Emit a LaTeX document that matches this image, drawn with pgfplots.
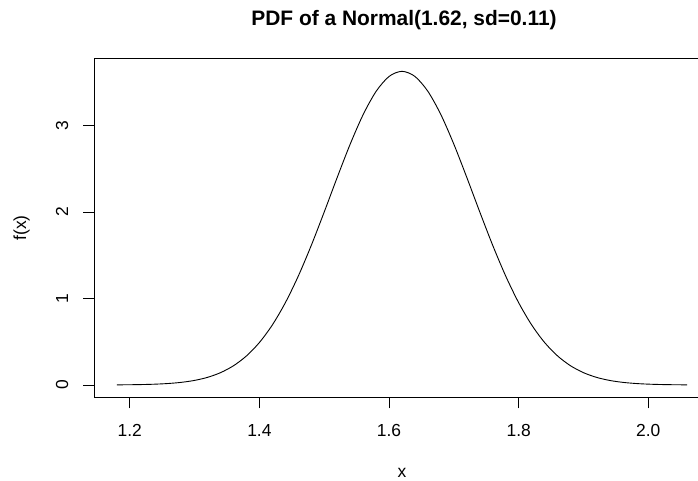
\documentclass[border=0pt]{standalone}
\usepackage{pgfplots}
\pgfplotsset{compat=1.18}
\usepackage{fontspec}
\setmainfont{Liberation Sans}
\begin{document}
\begin{tikzpicture}[x=1bp,y=1bp]
\useasboundingbox (0,0) rectangle (698,481);
\begin{axis}[
  at={(94bp,83.5bp)}, anchor=south west,
  scale only axis, width=616bp, height=338.7bp,
  xmin=1.1448, xmax=2.0952, ymin=-0.14507, ymax=3.7718,
  axis line style={line width=0.9bp},
  tick align=outside, tick pos=left,
  major tick length=11bp,
  tick style={line width=0.9bp, black},
  xtick={1.2,1.4,1.6,1.8,2.0},
  xticklabels={1.2,1.4,1.6,1.8,2.0},
  ytick={0,1,2,3},
  yticklabels={0,1,2,3},
  xticklabel style={anchor=base, yshift=-28.5bp},
  yticklabel style={xshift=-15bp, rotate=90, anchor=base},
  ticklabel style={font=\fontsize{17.5}{20}\selectfont},
  /pgf/number format/assume math mode=true,
  clip=false,
]
\addplot[black, line width=0.9bp, smooth] coordinates {
(1.18,0.00122) (1.20,0.00248) (1.22,0.00487) (1.24,0.00929) (1.26,0.01713)
(1.28,0.03055) (1.30,0.0527) (1.32,0.0880) (1.34,0.1421) (1.36,0.2220)
(1.38,0.3356) (1.40,0.4908) (1.42,0.6945) (1.44,0.9508) (1.46,1.2591)
(1.48,1.6135) (1.50,2.0003) (1.52,2.3992) (1.54,2.7838) (1.56,3.1254)
(1.58,3.3947) (1.60,3.5673) (1.62,3.6267) (1.64,3.5673) (1.66,3.3947)
(1.68,3.1254) (1.70,2.7838) (1.72,2.3992) (1.74,2.0003) (1.76,1.6135)
(1.78,1.2591) (1.80,0.9508) (1.82,0.6945) (1.84,0.4908) (1.86,0.3356)
(1.88,0.2220) (1.90,0.1421) (1.92,0.0880) (1.94,0.0527) (1.96,0.03055)
(1.98,0.01713) (2.00,0.00929) (2.02,0.00487) (2.04,0.00248) (2.06,0.00122)
};
\end{axis}
\node[anchor=base, font=\bfseries\fontsize{21}{24}\selectfont] at (404,455) {PDF of a Normal(1.62, sd=0.11)};
\node[anchor=base, font=\fontsize{17.5}{20}\selectfont] at (402,3.5) {x};
\node[anchor=base, rotate=90, font=\fontsize{17.5}{20}\selectfont] at (26,253) {f(x)};
\end{tikzpicture}
\end{document}
